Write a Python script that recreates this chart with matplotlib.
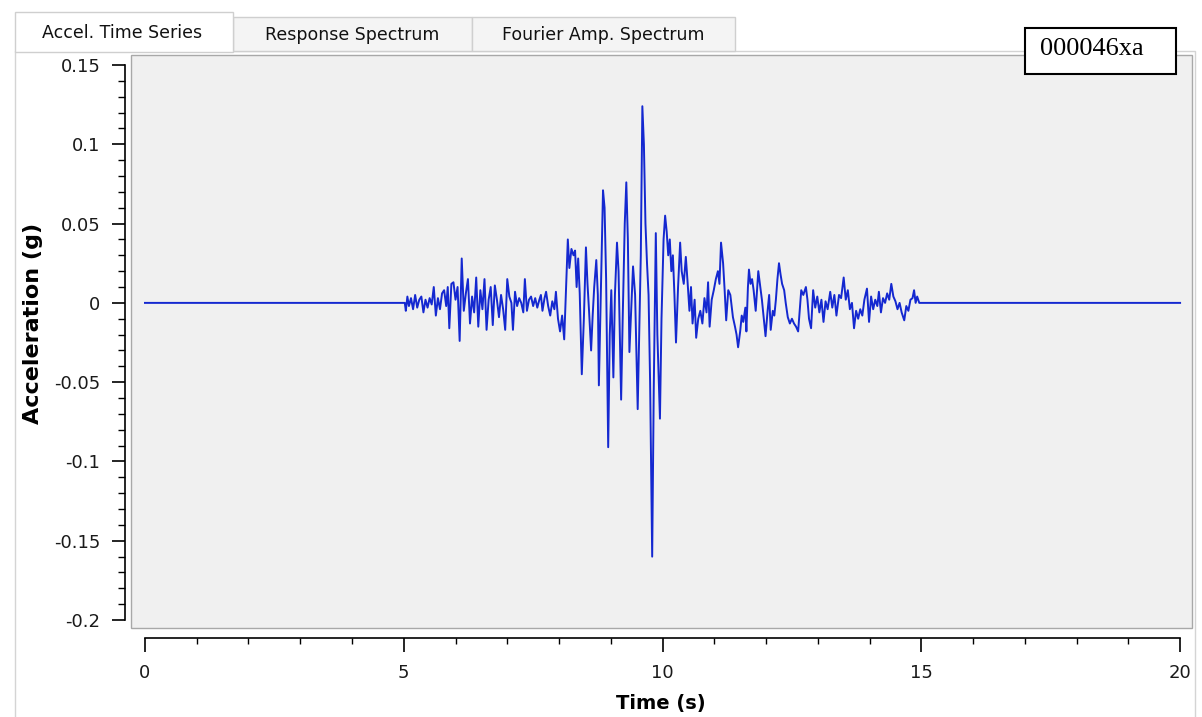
import matplotlib
matplotlib.use('Agg')
import matplotlib.pyplot as plt
from matplotlib.patches import Rectangle
from matplotlib.ticker import MultipleLocator, FuncFormatter

plt.rcParams['axes.unicode_minus'] = False

# record: quiet lead-in, strong motion, quiet tail
t_lead = [0.0, 5.02]
a_lead = [0.0, 0.0]

t_onset = [5.04, 5.07, 5.10, 5.14, 5.18, 5.22, 5.26, 5.30, 5.34, 5.38, 5.42, 5.46,
           5.50, 5.54, 5.58, 5.62, 5.66, 5.70, 5.74, 5.78, 5.82, 5.85, 5.88, 5.92,
           5.96, 6.00, 6.04, 6.08, 6.12, 6.16, 6.20, 6.24, 6.28, 6.32, 6.36, 6.40,
           6.44, 6.48, 6.52, 6.56, 6.60, 6.64, 6.68, 6.72, 6.76, 6.80, 6.84, 6.88,
           6.92, 6.96, 7.00, 7.04, 7.08, 7.11, 7.15, 7.19, 7.23, 7.27, 7.31, 7.34,
           7.38, 7.42, 7.46, 7.50, 7.54, 7.58, 7.62, 7.65, 7.68, 7.72, 7.75, 7.79,
           7.83, 7.87, 7.91, 7.94, 7.98, 8.02, 8.06, 8.10, 8.14]
a_onset = [-0.005, 0.004, -0.002, 0.003, -0.004, 0.005, -0.003, 0.002, 0.004, -0.006, 0.002, -0.003,
           0.003, -0.001, 0.010, -0.008, 0.003, -0.004, 0.006, 0.008, -0.002, 0.010, -0.016, 0.012,
           0.013, 0.002, 0.010, -0.024, 0.028, -0.005, 0.006, 0.015, -0.013, 0.004, -0.006, 0.016,
           -0.015, 0.008, -0.004, 0.015, -0.017, 0.002, 0.010, -0.014, 0.011, 0.002, -0.009, 0.005,
           -0.004, -0.017, 0.015, 0.004, 0.000, -0.017, 0.007, -0.002, 0.003, 0.000, -0.006, 0.015,
           -0.005, 0.002, 0.004, -0.002, 0.003, -0.003, 0.002, 0.005, -0.005, 0.003, 0.007, -0.002,
           -0.008, 0.001, -0.004, 0.007, -0.010, -0.018, -0.008, -0.023, 0.012]

t_strong = [8.17, 8.20, 8.24, 8.28, 8.31, 8.34, 8.37, 8.40, 8.44, 8.48, 8.52, 8.55,
            8.58, 8.62, 8.65, 8.68, 8.72, 8.75, 8.77, 8.81, 8.85, 8.88, 8.91, 8.95,
            8.98, 9.01, 9.05, 9.08, 9.12, 9.15, 9.20, 9.23, 9.27, 9.30, 9.33, 9.36,
            9.40, 9.43, 9.47, 9.52, 9.55, 9.58, 9.61, 9.64, 9.67, 9.70, 9.73, 9.76,
            9.80, 9.83, 9.87, 9.90, 9.95, 9.98, 10.02, 10.05, 10.08, 10.11, 10.14, 10.17,
            10.20, 10.23, 10.26, 10.30, 10.34, 10.37, 10.41, 10.45, 10.48, 10.52, 10.55, 10.58]
a_strong = [0.040, 0.022, 0.034, 0.030, 0.033, 0.010, 0.028, 0.006, -0.045, -0.010, 0.035, 0.012,
            -0.005, -0.030, -0.008, 0.010, 0.027, 0.005, -0.052, 0.010, 0.071, 0.060, 0.015, -0.091,
            -0.020, 0.008, -0.047, 0.005, 0.038, 0.020, -0.061, -0.010, 0.050, 0.076, 0.040, -0.031,
            0.000, 0.023, 0.005, -0.067, -0.020, 0.030, 0.124, 0.100, 0.050, 0.025, 0.005, -0.050,
            -0.160, -0.055, 0.044, -0.020, -0.073, -0.010, 0.040, 0.055, 0.045, 0.030, 0.040, 0.020,
            0.030, 0.005, -0.025, 0.010, 0.038, 0.020, 0.012, 0.029, 0.015, -0.005, 0.010, -0.013]

t_coda = [10.62, 10.65, 10.69, 10.73, 10.77, 10.81, 10.85, 10.88, 10.91, 10.95, 10.99, 11.03,
          11.07, 11.10, 11.13, 11.17, 11.20, 11.23, 11.27, 11.31, 11.36, 11.40, 11.43, 11.46,
          11.50, 11.53, 11.56, 11.60, 11.62, 11.65, 11.67, 11.70, 11.73, 11.76, 11.80, 11.83,
          11.85, 11.89, 11.92, 11.95, 11.99, 12.03, 12.06, 12.09, 12.13, 12.16, 12.19, 12.22,
          12.25, 12.28, 12.31, 12.35, 12.38, 12.42, 12.46, 12.50, 12.54, 12.58, 12.62, 12.65,
          12.68, 12.72, 12.77, 12.80, 12.83, 12.87, 12.91, 12.95, 12.99, 13.03, 13.07, 13.11,
          13.15, 13.19, 13.24, 13.28, 13.32, 13.36, 13.41, 13.45, 13.50, 13.54, 13.58, 13.62,
          13.66, 13.70, 13.74, 13.78, 13.82, 13.86, 13.90, 13.95, 13.99, 14.03, 14.07, 14.11,
          14.15, 14.18, 14.22, 14.26, 14.30, 14.34, 14.38, 14.42, 14.46, 14.50, 14.54, 14.58,
          14.62, 14.67, 14.71, 14.75, 14.79, 14.83, 14.86, 14.89, 14.92, 14.96]
a_coda = [0.002, -0.022, -0.010, -0.005, -0.013, 0.003, -0.006, 0.013, -0.015, 0.002, 0.008, 0.015,
          0.020, 0.012, 0.038, 0.025, 0.008, -0.011, 0.008, 0.005, -0.009, -0.015, -0.020, -0.028,
          -0.018, -0.008, -0.012, -0.003, -0.018, 0.010, 0.021, 0.012, 0.015, 0.008, -0.005, 0.010,
          0.020, 0.010, 0.002, -0.008, -0.021, -0.005, 0.005, -0.017, -0.005, -0.008, 0.002, 0.015,
          0.025, 0.018, 0.012, 0.008, 0.000, -0.009, -0.013, -0.010, -0.013, -0.015, -0.018, -0.005,
          0.008, 0.005, 0.010, 0.002, -0.010, -0.016, 0.008, -0.003, 0.004, -0.006, 0.002, -0.012,
          0.001, -0.004, 0.007, -0.003, 0.005, -0.008, 0.005, 0.003, 0.016, 0.002, 0.008, -0.004,
          0.000, -0.016, -0.005, -0.010, -0.004, -0.008, 0.002, 0.009, -0.012, 0.004, -0.004, 0.002,
          -0.002, 0.007, -0.006, 0.003, 0.000, 0.006, 0.002, 0.012, 0.004, 0.001, -0.004, 0.000,
          -0.006, -0.011, -0.002, -0.005, 0.002, 0.003, 0.008, 0.000, 0.004, 0.000]

t_tail = [15.0, 20.0]
a_tail = [0.0, 0.0]

tabs = ['Accel. Time Series', 'Response Spectrum', 'Fourier Amp. Spectrum']
record_id = '000046xa'

W, H = 1202, 717
fig = plt.figure(figsize=(W / 100, H / 100), dpi=100)
fig.patch.set_facecolor('white')


def fx(px):
    return px / W


def fy(py):
    return 1 - py / H


def box(x0, y0, x1, y1, fc, ec, lw=1.0, z=-1):
    r = Rectangle((fx(x0), fy(y1)), fx(x1) - fx(x0), fy(y0) - fy(y1),
                  transform=fig.transFigure, facecolor=fc, edgecolor=ec,
                  linewidth=lw, zorder=z)
    fig.add_artist(r)


# tab control frame
box(15, 51, 1195, 730, 'white', '#d4d4d4', z=-3)
box(233, 17, 472, 51, '#f4f4f4', '#cfcfcf', z=-2)
box(472, 17, 735, 51, '#f4f4f4', '#cfcfcf', z=-2)
box(15, 12, 233, 52, 'white', '#cfcfcf', z=-2)
tab_centers = [122, 352, 603]
tab_y = [33, 35, 35]
for name, cx, cy in zip(tabs, tab_centers, tab_y):
    fig.text(fx(cx), fy(cy), name, ha='center', va='center', fontsize=12.5, color='#111111')

ax = fig.add_axes([fx(131), fy(628), fx(1192) - fx(131), fy(55) - fy(628)])
ax.set_facecolor('#f0f0f0')

t_all = t_lead + t_onset + t_strong + t_coda + t_tail
a_all = a_lead + a_onset + a_strong + a_coda + a_tail
ax.plot(t_all, a_all, color='#1428d0', linewidth=1.4)

ax.set_xlim(-0.27, 20.23)
ax.set_ylim(-0.205, 0.1563)

for s in ['top', 'right']:
    ax.spines[s].set_visible(False)
ax.spines['left'].set_position(('outward', 4.5))
ax.spines['bottom'].set_position(('outward', 7.2))
ax.spines['left'].set_bounds(-0.2, 0.15)
ax.spines['bottom'].set_bounds(0, 20)
ax.spines['left'].set_linewidth(1.2)
ax.spines['bottom'].set_linewidth(1.2)

ax.yaxis.set_major_locator(MultipleLocator(0.05))
ax.yaxis.set_minor_locator(MultipleLocator(0.01))
ax.xaxis.set_major_locator(MultipleLocator(5))
ax.xaxis.set_minor_locator(MultipleLocator(1))
ax.yaxis.set_major_formatter(FuncFormatter(lambda v, p: '%g' % round(v, 3)))

ax.tick_params(axis='y', which='major', length=9.5, width=1.2, pad=8, labelsize=13, labelcolor='#1a1a1a')
ax.tick_params(axis='y', which='minor', length=5, width=1.0)
ax.tick_params(axis='x', which='major', length=10, width=1.2, pad=9, labelsize=13, labelcolor='#1a1a1a')
ax.tick_params(axis='x', which='minor', length=4.5, width=1.0)

# inset border of the plot panel
box(131, 55, 1192, 628, 'none', '#a8a8a8', lw=1.0, z=3)

fig.text(fx(661), fy(703), 'Time (s)', ha='center', va='center', fontsize=14, fontweight='bold')
fig.text(fx(33), fy(323), 'Acceleration (g)', ha='center', va='center', rotation=90,
         fontsize=16, fontweight='bold')

# record id box
box(1025, 28, 1176, 74, 'white', 'black', lw=1.5, z=5)
fig.text(fx(1040), fy(49), record_id, ha='left', va='center', fontsize=19,
         family='Liberation Serif', zorder=6)

fig.savefig('out.png', dpi=100)
